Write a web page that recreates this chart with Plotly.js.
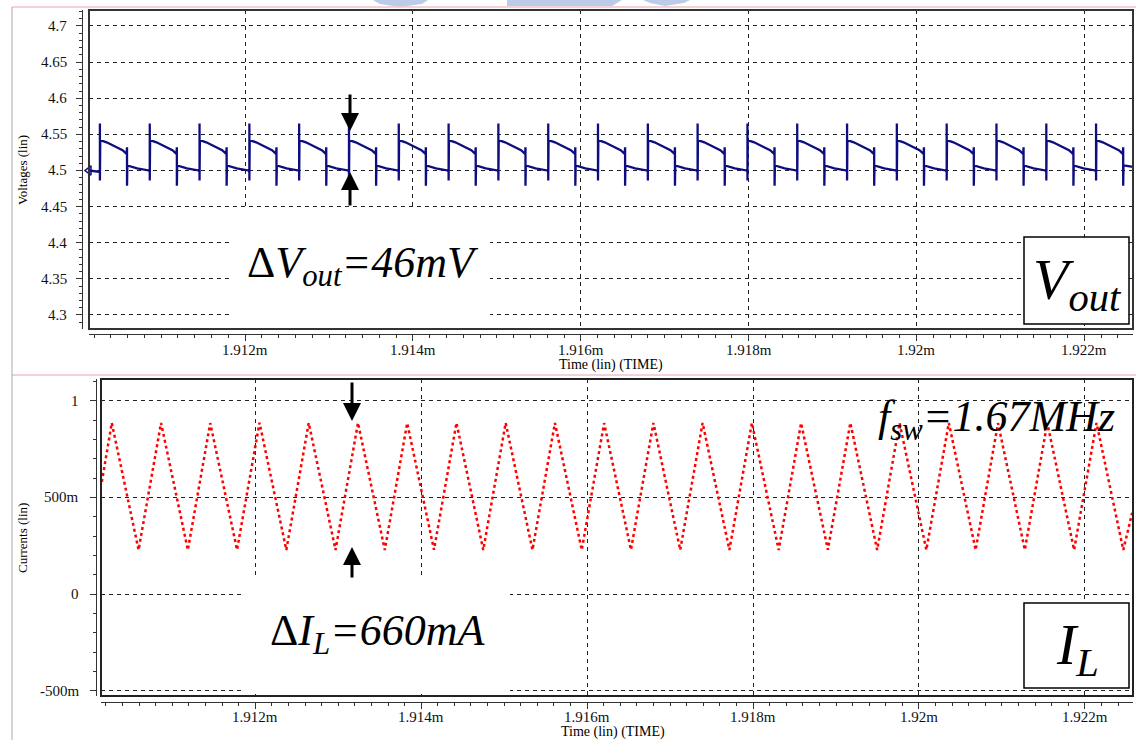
<!DOCTYPE html>
<html><head><meta charset="utf-8">
<script src="https://cdn.plot.ly/plotly-3.0.1.min.js"></script>
<style>html,body{margin:0;padding:0;background:#fff;} #chart{width:1136px;height:740px;}</style>
</head><body><div id="chart"></div>
<script>
// ---- data (time in ms) ----
const peakTimes = [1.910270, 1.910864, 1.911457, 1.912051, 1.912644, 1.913238, 1.913831, 1.914425, 1.915018, 1.915612, 1.916205, 1.916799, 1.917392, 1.917986, 1.918579, 1.919173, 1.919766, 1.920360, 1.920953, 1.921547, 1.922140];
const troughTimes = [1.910593, 1.911187, 1.911780, 1.912374, 1.912967, 1.913561, 1.914154, 1.914748, 1.915341, 1.915935, 1.916528, 1.917122, 1.917715, 1.918309, 1.918902, 1.919496, 1.920089, 1.920683, 1.921276, 1.921870, 1.922463];
const peakCurrents = [0.885, 0.885, 0.884, 0.886, 0.885, 0.885, 0.884, 0.885, 0.885, 0.885, 0.884, 0.885, 0.885, 0.885, 0.884, 0.885, 0.885, 0.885, 0.884, 0.885, 0.885];
const troughCurrents = [0.228, 0.228, 0.229, 0.228, 0.228, 0.228, 0.229, 0.228, 0.228, 0.228, 0.229, 0.228, 0.228, 0.228, 0.229, 0.228, 0.228, 0.228, 0.229, 0.228, 0.228];
const currentEdgeTimes = [1.91015, 1.92257];
const currentEdgeValues = [0.58, 0.42];

// Vout ripple shape in one switching period (values in V, offsets in ms)
const vBeforeRise = 4.498;
const vRiseSpike = [4.565, 4.486];
const highOffsets = [0.000004, 0.00008, 0.00019, 0.00027, 0.000318];
const highValues = [4.542, 4.539, 4.533, 4.528, 4.523];
const vFallSpike = [4.532, 4.479];
const lowOffsets = [0.000004, 0.00012, 0.00026];
const lowValues = [4.507, 4.503, 4.500];
const voltEdgeTimes = [1.91014, 1.92258];
const voltEdgeValues = [4.500, 4.505];

// ticks
const timeTickVals = [1.912, 1.914, 1.916, 1.918, 1.920, 1.922];
const timeTickText = ['1.912m', '1.914m', '1.916m', '1.918m', '1.92m', '1.922m'];
const voltTickVals = [4.3, 4.35, 4.4, 4.45, 4.5, 4.55, 4.6, 4.65, 4.7];
const voltTickText = ['4.3', '4.35', '4.4', '4.45', '4.5', '4.55', '4.6', '4.65', '4.7'];
const currTickVals = [-0.5, 0, 0.5, 1];
const currTickText = ['-500m', '0', '500m', '1'];

// ---- build traces ----
const vx = [voltEdgeTimes[0]], vy = [voltEdgeValues[0]];
for (let k = 0; k < peakTimes.length; k++) {
  const P = peakTimes[k], T = troughTimes[k];
  vx.push(P, P, P); vy.push(vBeforeRise, vRiseSpike[0], vRiseSpike[1]);
  highOffsets.forEach((o, j) => { vx.push(P + o); vy.push(highValues[j]); });
  vx.push(T, T); vy.push(vFallSpike[0], vFallSpike[1]);
  lowOffsets.forEach((o, j) => { if (T + o < voltEdgeTimes[1]) { vx.push(T + o); vy.push(lowValues[j]); } });
}
vx.push(voltEdgeTimes[1]); vy.push(voltEdgeValues[1]);

const ix = [currentEdgeTimes[0]], iy = [currentEdgeValues[0]];
for (let k = 0; k < peakTimes.length; k++) {
  ix.push(peakTimes[k], troughTimes[k]);
  iy.push(peakCurrents[k], troughCurrents[k]);
}
ix.push(currentEdgeTimes[1]); iy.push(currentEdgeValues[1]);

const W = 1136, H = 740;
const px = x => x / W, py = y => 1 - y / H;
const FONT = 'Liberation Serif';

const traces = [
  {x: vx, y: vy, type: 'scatter', mode: 'lines', xaxis: 'x', yaxis: 'y',
   line: {color: '#0d0d80', width: 2.3}, hoverinfo: 'skip'},
  {x: [voltEdgeTimes[0]], y: [voltEdgeValues[0]], type: 'scatter', mode: 'markers', xaxis: 'x', yaxis: 'y',
   marker: {symbol: 'triangle-left-open', size: 8, color: '#0d0d80', line: {width: 1.5, color: '#0d0d80'}}, cliponaxis: false, hoverinfo: 'skip'},
  {x: ix, y: iy, type: 'scatter', mode: 'lines', xaxis: 'x2', yaxis: 'y2',
   line: {color: '#ff0000', width: 2.5, dash: 'dot'}, hoverinfo: 'skip'}
];

function axisBase(extra) {
  return Object.assign({
    showgrid: true, gridcolor: '#222', gridwidth: 1, griddash: '4px,4px', zeroline: false,
    showline: true, linecolor: '#333', linewidth: 1, ticks: 'outside', ticklen: 6, tickwidth: 1, tickcolor: '#333',
    showticklabels: false, tickmode: 'array', fixedrange: true
  }, extra);
}

const layout = {
  width: W, height: H, margin: {l: 0, r: 0, t: 0, b: 0},
  font: {family: FONT, size: 14, color: '#111'},
  paper_bgcolor: '#fff', plot_bgcolor: '#fff', showlegend: false,
  xaxis: axisBase({domain: [px(89), px(1133)], range: [1.91014, 1.92258], anchor: 'free', position: py(334),
    tickvals: timeTickVals,
    minor: {ticks: 'outside', ticklen: 3, tick0: 1.912, dtick: 0.0002, tickcolor: '#333', showgrid: false}}),
  yaxis: axisBase({domain: [py(329), py(10)], range: [4.2806, 4.7221], anchor: 'free', position: px(82),
    tickvals: voltTickVals,
    minor: {ticks: 'outside', ticklen: 3, tick0: 4.3, dtick: 0.01, tickcolor: '#333', showgrid: false}}),
  xaxis2: axisBase({domain: [px(101), px(1133)], range: [1.91014, 1.92258], anchor: 'free', position: py(702),
    tickvals: timeTickVals,
    minor: {ticks: 'outside', ticklen: 3, tick0: 1.912, dtick: 0.0002, tickcolor: '#333', showgrid: false}}),
  yaxis2: axisBase({domain: [py(696), py(379)], range: [-0.527, 1.112], anchor: 'free', position: px(96),
    tickvals: currTickVals,
    minor: {ticks: 'outside', ticklen: 3, tick0: 0, dtick: 0.1, tickcolor: '#333', showgrid: false}}),
  shapes: [],
  annotations: []
};

const pathPx = pts => 'M ' + pts.map(p => px(p[0]) + ',' + py(p[1])).join(' L ') + ' Z';
const S = layout.shapes;
// watermark fragments at the top
const wm = '#bccbe8';
S.push({type: 'path', xref: 'paper', yref: 'paper', path: pathPx([[373,0],[428,0],[422,4],[400,7],[380,4]]), fillcolor: wm, line: {width: 0}});
S.push({type: 'path', xref: 'paper', yref: 'paper', path: pathPx([[507,0],[580,0],[580,6],[507,6]]), fillcolor: wm, line: {width: 0}});
S.push({type: 'path', xref: 'paper', yref: 'paper', path: pathPx([[580,0],[622,0],[612,6],[580,6]]), fillcolor: wm, line: {width: 0}});
S.push({type: 'path', xref: 'paper', yref: 'paper', path: pathPx([[643,0],[690,0],[684,3],[665,6],[650,3]]), fillcolor: wm, line: {width: 0}});
// screenshot frame lines
S.push({type: 'line', xref: 'paper', yref: 'paper', x0: px(12), x1: 1, y0: py(7), y1: py(7), line: {color: '#f2c2c8', width: 1.5}});
S.push({type: 'line', xref: 'paper', yref: 'paper', x0: px(12), x1: 1, y0: py(375), y1: py(375), line: {color: '#f2c2c8', width: 1.5}});
S.push({type: 'line', xref: 'paper', yref: 'paper', x0: px(12), x1: px(12), y0: py(7), y1: 0, line: {color: '#aaa', width: 1}});
// white boxes that hide the grid behind the labels
S.push({type: 'rect', xref: 'paper', yref: 'paper', x0: px(232), x1: px(490), y0: py(326), y1: py(208), fillcolor: '#fff', line: {width: 0}, layer: 'above'});
S.push({type: 'rect', xref: 'paper', yref: 'paper', x0: px(245), x1: px(510), y0: py(694), y1: py(579), fillcolor: '#fff', line: {width: 0}, layer: 'above'});
S.push({type: 'rect', xref: 'paper', yref: 'paper', x0: px(1024), x1: px(1129), y0: py(324), y1: py(237), fillcolor: '#fff', line: {color: '#000', width: 1.5}, layer: 'above'});
S.push({type: 'rect', xref: 'paper', yref: 'paper', x0: px(1024), x1: px(1129), y0: py(688), y1: py(603), fillcolor: '#fff', line: {color: '#000', width: 1.5}, layer: 'above'});
// plot frames
S.push({type: 'rect', xref: 'paper', yref: 'paper', x0: px(89), x1: px(1133), y0: py(329), y1: py(10), line: {color: '#333', width: 2}, layer: 'above'});
S.push({type: 'rect', xref: 'paper', yref: 'paper', x0: px(101), x1: px(1133), y0: py(696), y1: py(379), line: {color: '#222', width: 2}, layer: 'above'});

const A = layout.annotations;
const txt = (text, x, y, size, opts) => Object.assign({text: text, x: px(x), y: py(y), xref: 'paper', yref: 'paper', showarrow: false,
  font: {family: FONT, size: size, color: '#000'}, xanchor: 'center', yanchor: 'middle'}, opts || {});

// tick labels (placed on the axes' own data scales)
const tickFont = {family: FONT, size: 15, color: '#111'};
timeTickVals.forEach((v, i) => {
  A.push({text: timeTickText[i], x: v, xref: 'x', y: py(350), yref: 'paper', showarrow: false, font: tickFont, xanchor: 'center', yanchor: 'middle'});
  A.push({text: timeTickText[i], x: v, xref: 'x2', y: py(717), yref: 'paper', showarrow: false, font: tickFont, xanchor: 'center', yanchor: 'middle'});
});
voltTickVals.forEach((v, i) => {
  A.push({text: voltTickText[i], y: v, yref: 'y', x: px(69), xref: 'paper', showarrow: false, font: tickFont, xanchor: 'right', yanchor: 'middle'});
});
currTickVals.forEach((v, i) => {
  A.push({text: currTickText[i], y: v, yref: 'y2', x: px(81), xref: 'paper', showarrow: false, font: tickFont, xanchor: 'right', yanchor: 'middle'});
});

A.push(txt('Voltages (lin)', 22, 170, 13, {textangle: -90}));
A.push(txt('Currents (lin)', 22, 538, 13, {textangle: -90}));
A.push(txt('Time (lin) (TIME)', 611, 365, 14));
A.push(txt('Time (lin) (TIME)', 613, 732, 14));
A.push(txt('Δ<i>V</i><sub><i>out</i></sub><i>=46mV</i>', 245, 265, 44, {xanchor: 'left'}));
A.push(txt('Δ<i>I</i><sub><i>L</i></sub><i>=660mA</i>', 268, 633, 44, {xanchor: 'left'}));
A.push(txt('<i>V</i><sub><i>out</i></sub>', 1077, 283, 58));
A.push(txt('<i>I</i><sub><i>L</i></sub>', 1077, 648, 58));
A.push(txt('<i>f</i><sub><i>sw</i></sub><i>=1.67MHz</i>', 876, 419, 44, {xanchor: 'left'}));
const arrow = (x, y, ay) => ({text: '', x: px(x), y: py(y), xref: 'paper', yref: 'paper', showarrow: true, ax: 0, ay: ay,
  arrowhead: 2, arrowsize: 1.2, arrowwidth: 3, arrowcolor: '#000', standoff: 0});
A.push(arrow(350, 131, -38));
A.push(arrow(350, 172, 35));
A.push(arrow(352, 421, -40));
A.push(arrow(352, 547, 32));

Plotly.newPlot('chart', traces, layout, {displayModeBar: false, staticPlot: true});
</script>
</body></html>
